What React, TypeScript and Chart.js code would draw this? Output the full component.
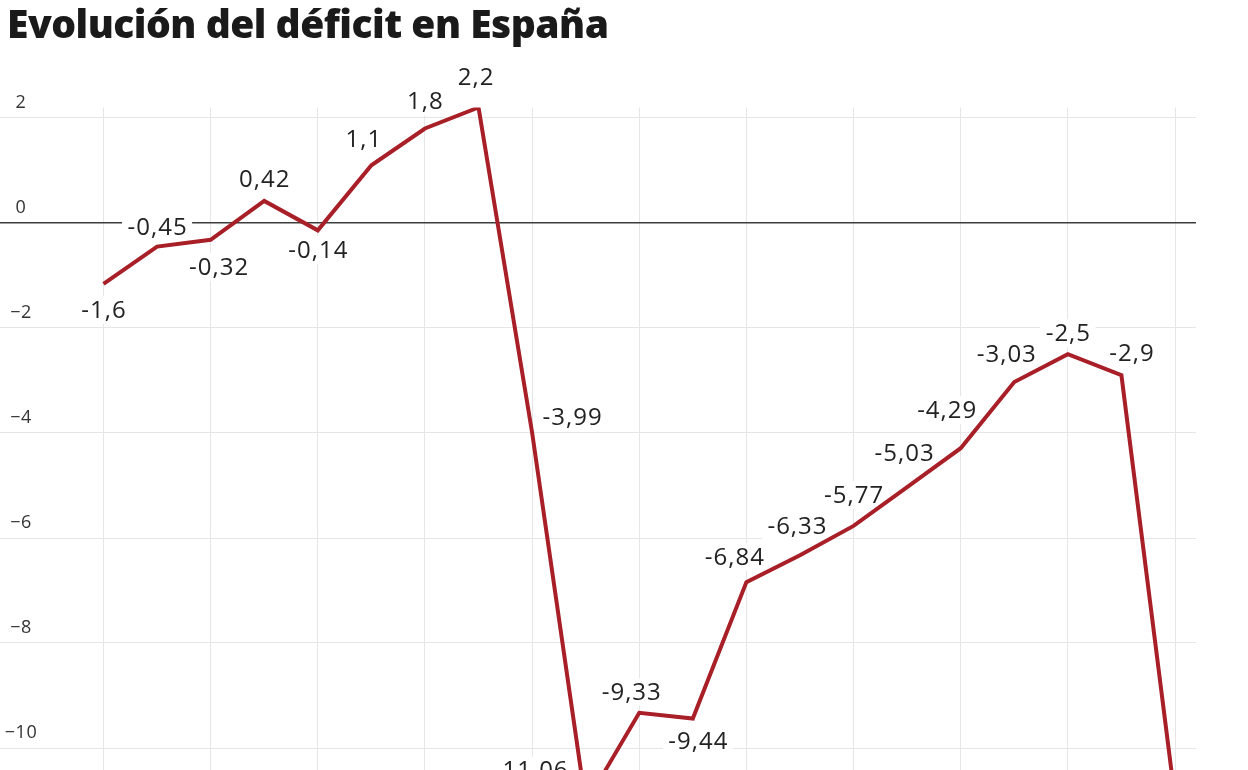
import { useEffect, useRef } from "react";
import { Chart, registerables } from "chart.js";

Chart.register(...registerables);

const title = "Evolución del déficit en España";
const years = [2000, 2001, 2002, 2003, 2004, 2005, 2006, 2007, 2008, 2009, 2010, 2011, 2012, 2013, 2014, 2015, 2016, 2017, 2018, 2019, 2020];
const deficit = [-1.16, -0.45, -0.32, 0.42, -0.14, 1.1, 1.8, 2.2, -3.99, -11.06, -9.33, -9.44, -6.84, -6.33, -5.77, -5.03, -4.29, -3.03, -2.5, -2.9, -10.97];
const pointLabels = ["-1,6", "-0,45", "-0,32", "0,42", "-0,14", "1,1", "1,8", "2,2", "-3,99", "-11,06", "-9,33", "-9,44", "-6,84", "-6,33", "-5,77", "-5,03", "-4,29", "-3,03", "-2,5", "-2,9", "-10,97"];
const yTicks = [2, 0, -2, -4, -6, -8, -10, -12, -14];
const yTickLabels = ["2", "0", "−2", "−4", "−6", "−8", "−10", "−12", "−14"];
const xGridYears = [2000, 2002, 2004, 2006, 2008, 2010, 2012, 2014, 2016, 2018, 2020];

// label placement relative to each point (style only)
const labelOffsets: [number, number][] = [
  [0, 26], [0, -19], [8, 27], [0, -22], [0, 20], [-8, -26], [0, -27], [-3, -30],
  [40, -15], [-55, -33], [-8, -21], [5, 23], [-12, -25], [-3, -29], [0, -31],
  [-3, -34], [-14, -38], [-8, -28], [0, -21], [10, -22], [30, 24],
];

const LINE_COLOR = "#a81f28";
const TEXT_COLOR = "#222222";

const decorPlugin = {
  id: "decor",
  beforeDatasetsDraw(chart: any) {
    const ctx = chart.ctx;
    const yScale = chart.scales.y;
    const xScale = chart.scales.x;
    ctx.save();
    // y tick labels
    try { (ctx as any).letterSpacing = "0.5px"; } catch (e) {}
    ctx.font = "18px 'Open Sans'";
    ctx.fillStyle = "#333333";
    ctx.textAlign = "center";
    ctx.textBaseline = "middle";
    yTicks.forEach((v, i) => {
      ctx.fillText(yTickLabels[i], 21, yScale.getPixelForValue(v) - 15);
    });
    // point labels with white background
    try { (ctx as any).letterSpacing = "1px"; } catch (e) {}
    ctx.font = "24px 'Open Sans'";
    deficit.forEach((v, i) => {
      const px = xScale.getPixelForValue(years[i]) + labelOffsets[i][0];
      const py = yScale.getPixelForValue(v) + labelOffsets[i][1];
      const w = ctx.measureText(pointLabels[i]).width;
      ctx.fillStyle = "#ffffff";
      ctx.fillRect(px - w / 2 - 5, py - 14, w + 10, 28);
      ctx.fillStyle = TEXT_COLOR;
      ctx.fillText(pointLabels[i], px + 0.5, py + 1);
    });
    ctx.restore();
  },
  afterDraw(chart: any) {
    const ctx = chart.ctx;
    ctx.save();
    ctx.font = "800 39px 'Open Sans'";
    ctx.fillStyle = "#1a1a1a";
    ctx.textAlign = "left";
    ctx.textBaseline = "alphabetic";
    try { (ctx as any).letterSpacing = "-0.5px"; } catch (e) {}
    ctx.fillText(title, 7, 38);
    ctx.restore();
  },
};

export default function App() {
  const ref = useRef<HTMLCanvasElement | null>(null);
  useEffect(() => {
    if (!ref.current) return;
    const chart = new Chart(ref.current, {
      type: "line",
      data: {
        datasets: [
          {
            data: years.map((y, i) => ({ x: y, y: deficit[i] })),
            borderColor: LINE_COLOR,
            borderWidth: 4,
            borderJoinStyle: "miter",
            pointRadius: 0,
            tension: 0,
            fill: false,
          },
        ],
      },
      options: {
        responsive: false,
        animation: false,
        events: [],
        layout: { padding: { left: 0, right: 52, top: 107.5, bottom: 42 } },
        plugins: { legend: { display: false }, title: { display: false }, tooltip: { enabled: false } },
        scales: {
          x: {
            type: "linear",
            min: 2000 - 103.5 / 53.575,
            max: 2000 + (1196 - 103.5) / 53.575,
            afterBuildTicks: (scale: any) => {
              scale.ticks = xGridYears.map((v) => ({ value: v }));
            },
            ticks: { display: false },
            border: { display: false },
            grid: { color: "#e6e6e6", lineWidth: 1, drawTicks: false },
          },
          y: {
            type: "linear",
            min: -14,
            max: 2.2,
            afterBuildTicks: (scale: any) => {
              scale.ticks = yTicks.map((v) => ({ value: v }));
            },
            ticks: { display: false },
            border: { display: false },
            grid: {
              drawTicks: false,
              color: (c: any) => (c.tick && c.tick.value === 0 ? "#3c3c3c" : "#e6e6e6"),
              lineWidth: (c: any) => (c.tick && c.tick.value === 0 ? 1.5 : 1),
            },
          },
        },
      },
      plugins: [decorPlugin],
    } as any);
    return () => chart.destroy();
  }, []);
  return (
    <div style={{ position: "fixed", left: 0, top: 0, width: 1248, height: 770, overflow: "hidden", background: "#fff" }}>
      <canvas ref={ref} width={1248} height={1000} style={{ display: "block" }} />
    </div>
  );
}
